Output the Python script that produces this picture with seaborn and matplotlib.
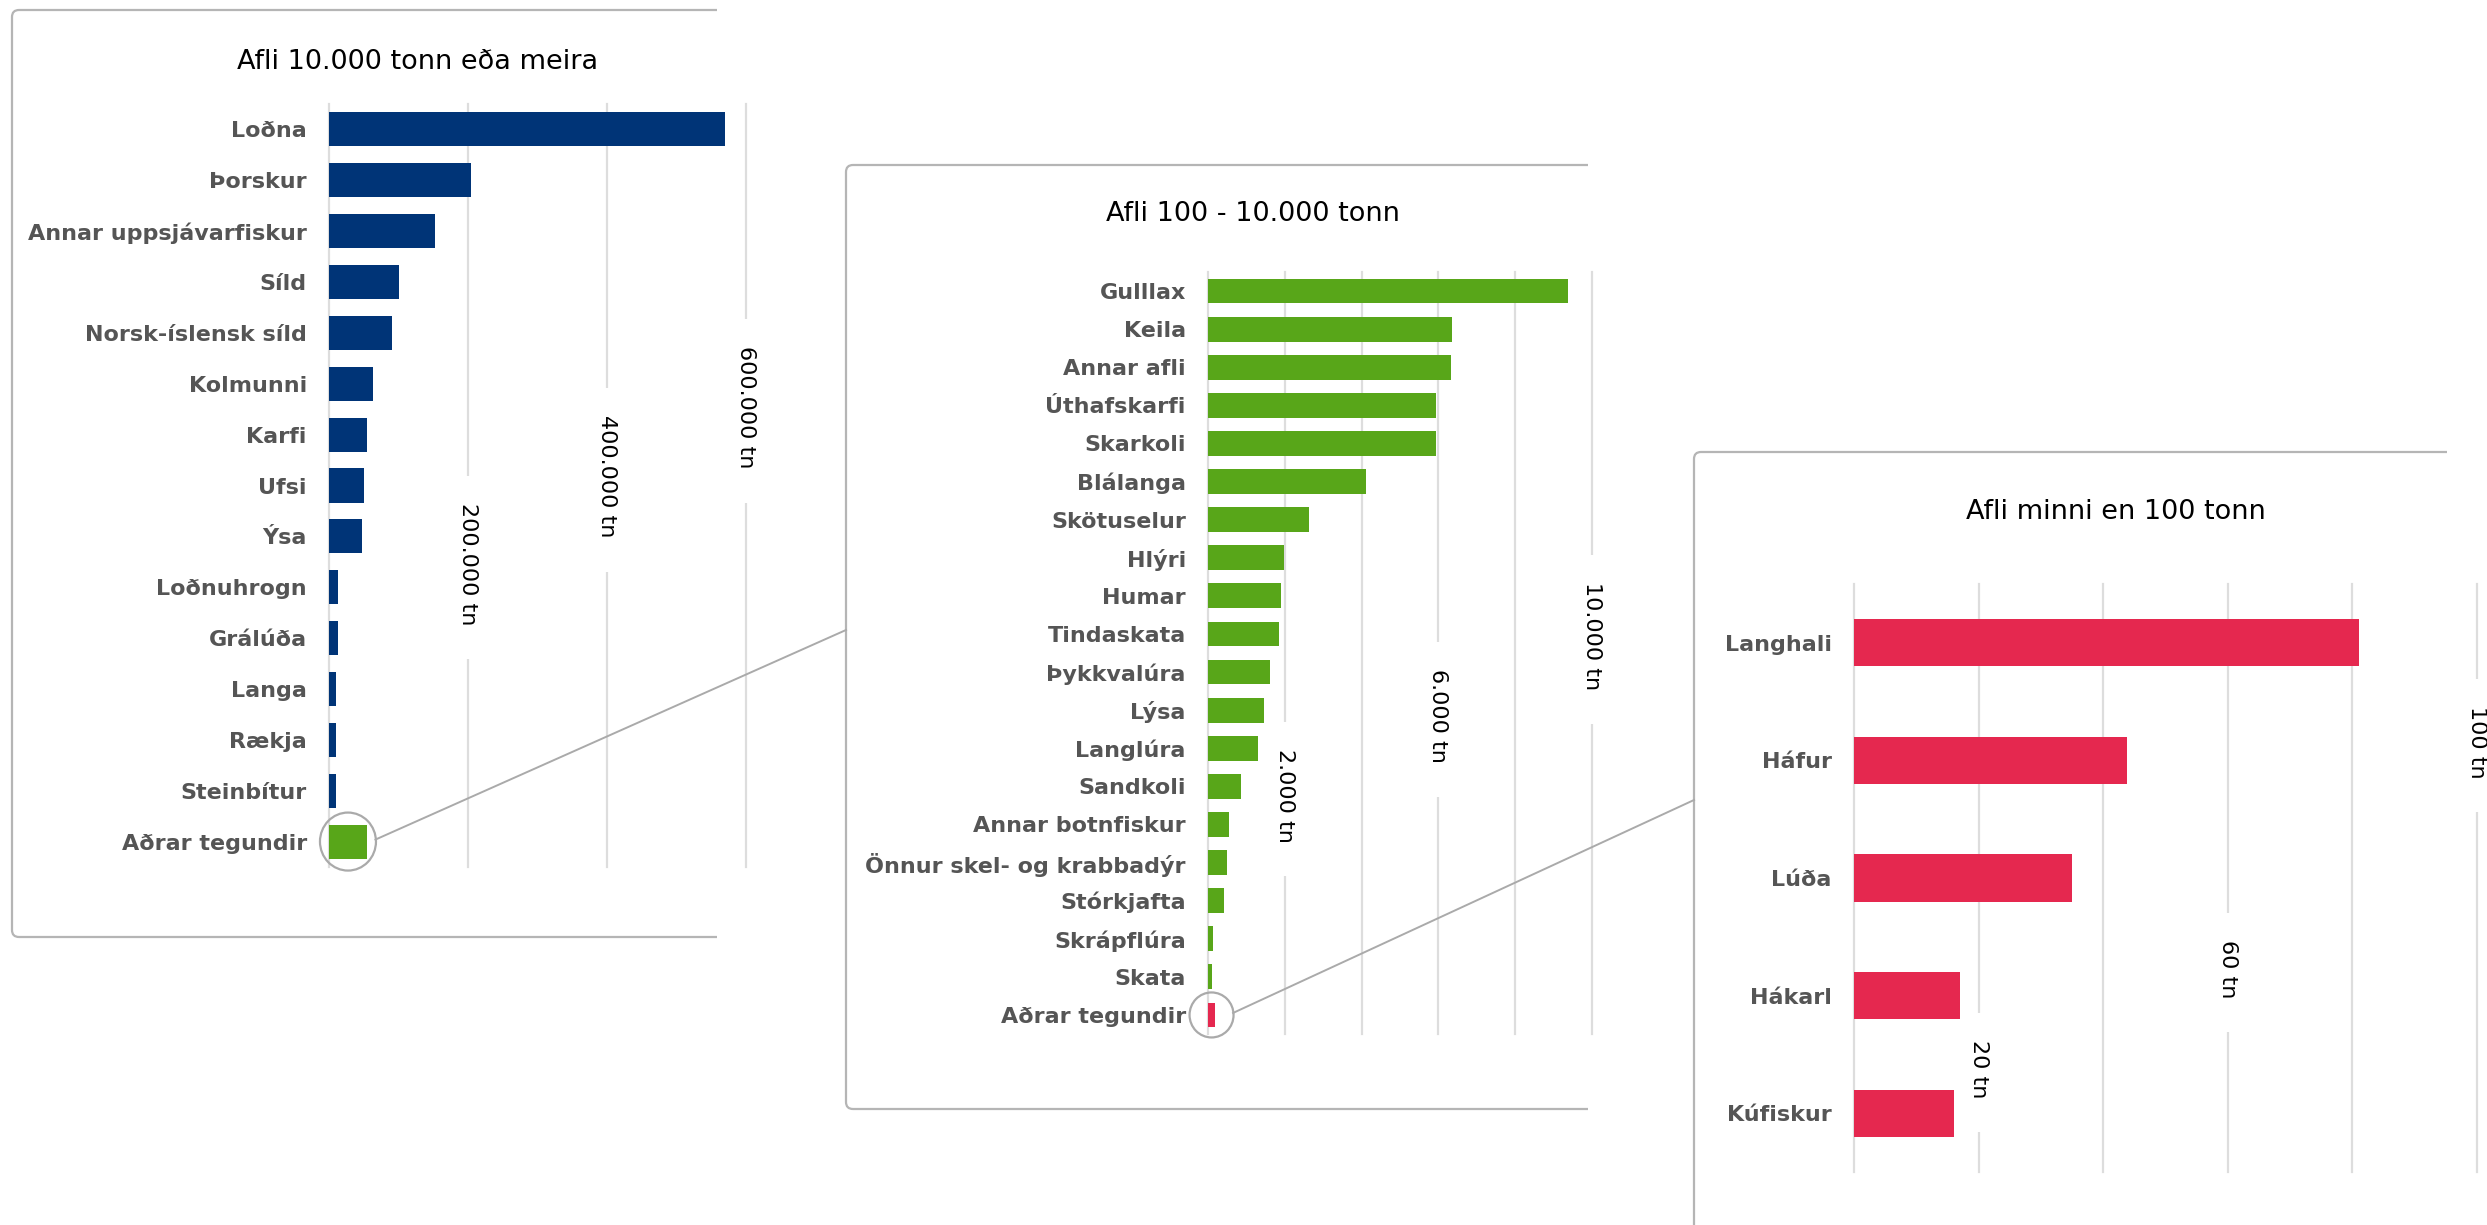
import matplotlib
matplotlib.use("Agg")
import matplotlib.pyplot as plt
import seaborn as sns
import numpy as np
from matplotlib.patches import Ellipse, PathPatch, Rectangle
from matplotlib.path import Path
from matplotlib.transforms import IdentityTransform

# ---------------- data ----------------
big_title = "Afli 10.000 tonn eða meira"
big_species = ["Loðna", "Þorskur", "Annar uppsjávarfiskur", "Síld", "Norsk-íslensk síld",
               "Kolmunni", "Karfi", "Ufsi", "Ýsa", "Loðnuhrogn", "Grálúða", "Langa",
               "Rækja", "Steinbítur", "Aðrar tegundir"]
big_tonnes = [570000, 204000, 152000, 101000, 90500, 64000, 55000, 50000, 47600,
              13000, 12500, 10500, 10300, 10200, 54600]
big_ticks = [200000, 400000, 600000]
big_tick_labels = ["200.000 tn", "400.000 tn", "600.000 tn"]

mid_title = "Afli 100 - 10.000 tonn"
mid_species = ["Gulllax", "Keila", "Annar afli", "Úthafskarfi", "Skarkoli", "Blálanga",
               "Skötuselur", "Hlýri", "Humar", "Tindaskata", "Þykkvalúra", "Lýsa",
               "Langlúra", "Sandkoli", "Annar botnfiskur", "Önnur skel- og krabbadýr",
               "Stórkjafta", "Skrápflúra", "Skata", "Aðrar tegundir"]
mid_tonnes = [9375, 6346, 6340, 5938, 5930, 4115, 2640, 1977, 1909, 1857, 1615, 1471,
              1312, 859, 542, 500, 409, 143, 115, 185]
mid_ticks = [2000, 6000, 10000]
mid_tick_labels = ["2.000 tn", "6.000 tn", "10.000 tn"]

small_title = "Afli minni en 100 tonn"
small_species = ["Langhali", "Háfur", "Lúða", "Hákarl", "Kúfiskur"]
small_tonnes = [81, 43.9, 35, 17, 16]
small_ticks = [20, 60, 100]
small_tick_labels = ["20 tn", "60 tn", "100 tn"]

# ---------------- style ----------------
NAVY = "#003477"
GREEN = "#58a619"
RED = "#e5284f"
LABEL_GRAY = "#555555"
GRID = "#dddddd"
BOX = "#b5b5b5"
LINK = "#aaaaaa"

W, H = 2487, 1225
plt.rcParams["font.family"] = ["DejaVu Sans"]
fig = plt.figure(figsize=(W / 100, H / 100), dpi=100)
fig.patch.set_facecolor("white")

value_texts = []


def px_axes(x0, x1, y0, y1):
    return fig.add_axes([x0 / W, 1 - y1 / H, (x1 - x0) / W, (y1 - y0) / H])


def panel(ax, species, values, colors, width, grid_step, xmax, ticks, tick_labels, label_fracs):
    sns.barplot(x=values, y=species, hue=species, palette=colors, legend=False,
                orient="h", width=width, saturation=1, ax=ax, linewidth=0)
    ax.set_xlim(0, xmax)
    ax.set_ylim(len(species) - 0.5, -0.5)
    ax.set_xticks(np.arange(0, xmax + grid_step / 2, grid_step))
    ax.grid(axis="x", color=GRID, lw=1.6)
    ax.grid(axis="y", visible=False)
    for gl in ax.get_xgridlines():
        gl.set_clip_on(False)
    ax.set_axisbelow(True)
    for s in ax.spines.values():
        s.set_visible(False)
    ax.tick_params(axis="x", length=0, labelbottom=False)
    ax.tick_params(axis="y", length=0, pad=16, labelsize=16, labelcolor=LABEL_GRAY)
    for lbl in ax.get_yticklabels():
        lbl.set_fontweight("bold")
    ax.set_xlabel("")
    ax.set_ylabel("")
    ax.patch.set_alpha(0)
    for t, lab, fy in zip(ticks, tick_labels, label_fracs):
        txt = ax.text(t, fy, lab, transform=ax.get_xaxis_transform(), rotation=270,
                      ha="center", va="center", fontsize=16, color="black", zorder=6)
        value_texts.append((ax, txt))


ax1 = px_axes(329, 746, 104, 867)
panel(ax1, big_species, big_tonnes, [NAVY] * (len(big_species) - 1) + [GREEN],
      0.67, 200000, 600000, big_ticks, big_tick_labels, [0.397, 0.512, 0.602])

ax2 = px_axes(1208, 1592, 272, 1034)
panel(ax2, mid_species, mid_tonnes, [GREEN] * (len(mid_species) - 1) + [RED],
      0.65, 2000, 10000, mid_ticks, mid_tick_labels, [0.313, 0.417, 0.522])

ax3 = px_axes(1854, 2477, 584, 1172)
panel(ax3, small_species, small_tonnes, [RED] * len(small_species),
      0.40, 20, 100, small_ticks, small_tick_labels, [0.175, 0.345, 0.731])

# white gaps in the gridlines behind the value labels
fig.canvas.draw()
renderer = fig.canvas.get_renderer()
for ax, txt in value_texts:
    bb = txt.get_window_extent(renderer)
    cx = (bb.x0 + bb.x1) / 2
    rect = Rectangle((cx - 18, bb.y0 - 34), 36, bb.height + 34 + 27,
                     transform=IdentityTransform(), facecolor="white",
                     edgecolor="none", zorder=5)
    ax.add_patch(rect)
    rect.set_clip_on(False)

# ---------------- overlay: boxes, titles, connectors ----------------
ov = fig.add_axes([0, 0, 1, 1], zorder=10)
ov.set_xlim(0, W)
ov.set_ylim(H, 0)
ov.axis("off")
ov.patch.set_alpha(0)


def open_box(left, top, bottom, right, r=7):
    verts = [(right, top), (left + r, top), (left, top), (left, top + r),
             (left, bottom - r), (left, bottom), (left + r, bottom), (right, bottom)]
    codes = [Path.MOVETO, Path.LINETO, Path.CURVE3, Path.CURVE3,
             Path.LINETO, Path.CURVE3, Path.CURVE3, Path.LINETO]
    ov.add_patch(PathPatch(Path(verts, codes), facecolor="none", edgecolor=BOX, lw=1.6,
                           capstyle="butt", clip_on=False))


open_box(12, 10, 937, 717)
open_box(846, 165, 1109, 1588)
open_box(1694, 452, 1320, 2447)

ov.text(418, 62, big_title, ha="center", va="center", fontsize=19.5, color="black")
ov.text(1253, 214, mid_title, ha="center", va="center", fontsize=19.5, color="black")
ov.text(2116, 512, small_title, ha="center", va="center", fontsize=19.5, color="black")


def bar_center_px(ax, value, idx):
    dx, dy = ax.transData.transform((value / 2, idx))
    return dx, H - dy


def connector(ax, value, idx, w, h, end):
    cx, cy = bar_center_px(ax, value, idx)
    ov.add_patch(Ellipse((cx, cy), w, h, facecolor="none", edgecolor=LINK, lw=1.6))
    ov.plot([cx + w / 2 - 0.5, end[0]], [cy - 2, end[1]], color=LINK, lw=1.4)


connector(ax1, big_tonnes[-1], len(big_tonnes) - 1, 56, 58, (846, 630))
connector(ax2, mid_tonnes[-1], len(mid_tonnes) - 1, 44, 45, (1694, 800))

fig.savefig("out.png", dpi=100, facecolor="white")
